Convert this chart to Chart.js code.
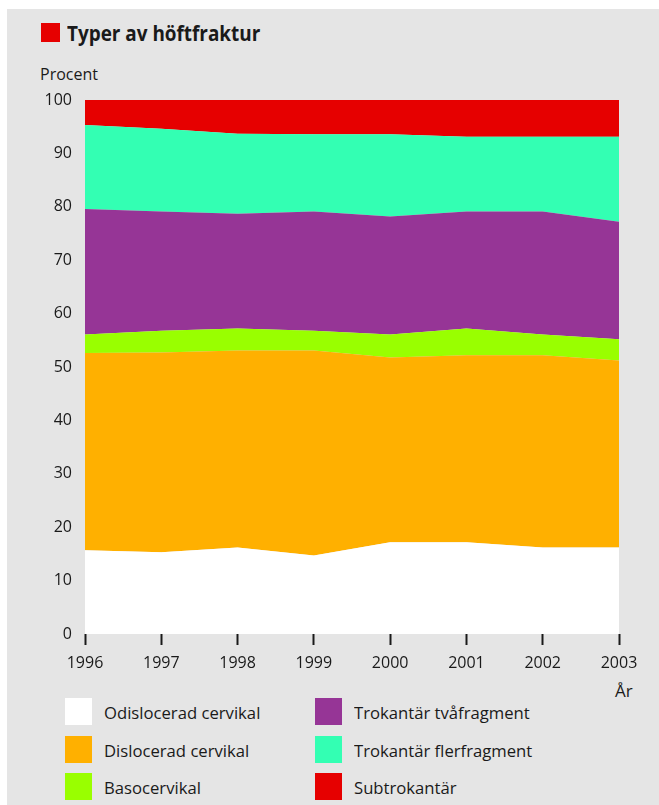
<!DOCTYPE html>
<html>
<head>
<meta charset="utf-8">
<script src="https://cdn.jsdelivr.net/npm/chart.js@4.4.1/dist/chart.umd.min.js"></script>
<style>
  html, body { margin: 0; padding: 0; background: #fff; }
  #panel {
    position: absolute; left: 7px; top: 9px; width: 652px; height: 796px;
    background: #e5e5e5;
  }
  #wrap { position: absolute; left: 0; top: 0; width: 659px; height: 680px; }
  .txt { position: absolute; font-family: "Open Sans", sans-serif; color: #1a1a1a; white-space: nowrap; }
  #sq { position: absolute; left: 41px; top: 23px; width: 19px; height: 19px; background: #e60000; }
  #title { left: 67px; top: 19px; font-size: 21px; font-weight: 700; transform: scaleX(0.9); transform-origin: left center; }
  #ylab { left: 40px; top: 63px; font-size: 16px; }
  #xlab { left: 615px; top: 679px; font-size: 17px; }
  .lg { position: absolute; font-family: "Open Sans", sans-serif; font-size: 17px; color: #1a1a1a; white-space: nowrap; }
  .lg .sw { position: absolute; left: 0; top: 0; width: 27px; height: 27px; }
  .lg .lt { position: absolute; left: 39px; top: 3px; transform: scaleX(0.98); transform-origin: left center; }
</style>
</head>
<body>
<div id="panel"></div>
<div id="sq"></div>
<div class="txt" id="title">Typer av höftfraktur</div>
<div class="txt" id="ylab">Procent</div>
<div class="txt" id="xlab">År</div>
<div id="wrap"><canvas id="chart" width="659" height="680"></canvas></div>
<div id="legend"></div>
<script>
// Categories and series (percent of hip fractures per year)
const years = ['1996', '1997', '1998', '1999', '2000', '2001', '2002', '2003'];
const seriesLabels = ['Odislocerad cervikal', 'Dislocerad cervikal', 'Basocervikal',
  'Trokantär tvåfragment', 'Trokantär flerfragment', 'Subtrokantär'];
const odislocerad = [15.7, 15.3, 16.2, 14.7, 17.2, 17.2, 16.2, 16.2];
const dislocerad = [36.9, 37.4, 36.9, 38.4, 34.6, 35.0, 36.0, 35.0];
const basocervikal = [3.5, 4.1, 4.1, 3.7, 4.3, 5.0, 3.9, 4.0];
const tvafragment = [23.5, 22.3, 21.5, 22.3, 22.1, 21.9, 23.0, 22.0];
const flerfragment = [15.7, 15.5, 15.0, 14.5, 15.4, 14.0, 14.0, 15.9];
const subtrokantar = [4.7, 5.4, 6.3, 6.4, 6.4, 6.9, 6.9, 6.9];
const yTicks = [0, 10, 20, 30, 40, 50, 60, 70, 80, 90, 100];

const colors = ['#ffffff', '#ffb000', '#99ff00', '#963596', '#33ffb3', '#e60000'];
const seriesData = [odislocerad, dislocerad, basocervikal, tvafragment, flerfragment, subtrokantar];

const datasets = seriesData.map((d, i) => ({
  label: seriesLabels[i],
  data: d,
  backgroundColor: colors[i],
  borderColor: colors[i],
  borderWidth: 0,
  pointRadius: 0,
  tension: 0,
  fill: i === 0 ? 'origin' : '-1'
}));

const tickFont = { family: '"Open Sans", sans-serif', size: 16 };

new Chart(document.getElementById('chart'), {
  type: 'line',
  data: { labels: years, datasets: datasets },
  options: {
    responsive: false,
    animation: false,
    layout: { padding: { top: 100, right: 40, left: 0, bottom: 0 } },
    plugins: { legend: { display: false }, tooltip: { enabled: false } },
    scales: {
      x: {
        offset: false,
        border: { display: false },
        grid: { display: true, drawOnChartArea: false, drawTicks: true, tickLength: 11, tickWidth: 2, color: '#1a1a1a' },
        ticks: { font: tickFont, color: '#1a1a1a', padding: 9, maxRotation: 0 },
        afterFit: s => { s.height = 46; }
      },
      y: {
        stacked: true,
        min: 0, max: 100,
        afterBuildTicks: s => { s.ticks = yTicks.map(v => ({ value: v })); },
        border: { display: false },
        grid: { display: false, drawTicks: false },
        ticks: { font: tickFont, color: '#1a1a1a', padding: 13 },
        afterFit: s => { s.width = 85; }
      }
    }
  }
});

// Legend in two columns, three rows
const legend = document.getElementById('legend');
seriesLabels.forEach((lab, i) => {
  const col = Math.floor(i / 3), row = i % 3;
  const el = document.createElement('div');
  el.className = 'lg';
  el.style.left = (65 + col * 250) + 'px';
  el.style.top = Math.round(698 + row * 37.5) + 'px';
  el.innerHTML = '<div class="sw" style="background:' + colors[i] + '"></div><div class="lt">' + lab + '</div>';
  legend.appendChild(el);
});
</script>
</body>
</html>
